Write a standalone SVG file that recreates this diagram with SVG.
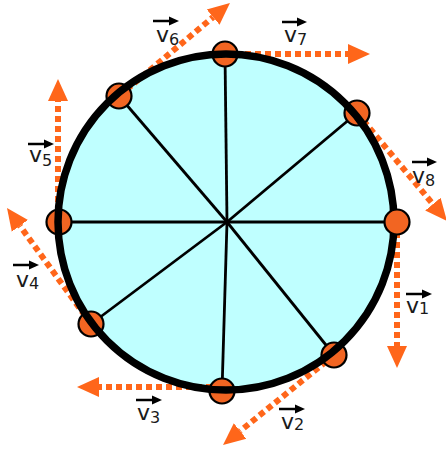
<svg xmlns="http://www.w3.org/2000/svg" width="446" height="451" viewBox="0 0 446 451">
<style>
.spoke{stroke:#000;stroke-width:2.8;fill:none}
.vel{stroke:#ff661a;stroke-width:6;stroke-dasharray:6 4;fill:none}
.node{fill:#f26522;stroke:#000;stroke-width:2.2}
.lbl{font-family:"DejaVu Sans",Verdana,sans-serif;font-size:22px;fill:#1a1a1a}
.sub{font-size:16px}
.vec{stroke:#000;stroke-width:2.5;fill:none}
</style>
<defs>
<marker id="ah" markerUnits="userSpaceOnUse" markerWidth="22" markerHeight="22" refX="0" refY="11" orient="auto">
<path d="M0,1 L22,11 L0,21 Z" fill="#ff661a"/>
</marker>
<marker id="va" markerUnits="userSpaceOnUse" markerWidth="10" markerHeight="10" refX="0" refY="5" orient="auto">
<path d="M0,0.5 L10,5 L0,9.5 Z" fill="#000"/>
</marker>
</defs>
<circle id="wheel" cx="226" cy="222" r="168" fill="#bfffff"/>
<g id="connectors">
<line class="spoke" x1="227" y1="222" x2="225" y2="54"/>
<line class="spoke" x1="227" y1="222" x2="119" y2="96"/>
<line class="spoke" x1="227" y1="222" x2="357" y2="113"/>
<line class="spoke" x1="227" y1="222" x2="59" y2="222"/>
<line class="spoke" x1="227" y1="222" x2="397" y2="222"/>
<line class="spoke" x1="227" y1="222" x2="91" y2="324"/>
<line class="spoke" x1="227" y1="222" x2="222" y2="391"/>
<line class="spoke" x1="227" y1="222" x2="334" y2="355"/>
<line class="vel" x1="225" y1="54" x2="348" y2="54" marker-end="url(#ah)"/>
<line class="vel" x1="119" y1="96" x2="213.1" y2="17.1" marker-end="url(#ah)"/>
<line class="vel" x1="58" y1="222" x2="58" y2="101" marker-end="url(#ah)"/>
<line class="vel" x1="91" y1="324" x2="19.9" y2="225.8" marker-end="url(#ah)"/>
<line class="vel" x1="222" y1="387" x2="99" y2="387" marker-end="url(#ah)"/>
<line class="vel" x1="334" y1="355" x2="240.1" y2="431.1" marker-end="url(#ah)"/>
<line class="vel" x1="397" y1="222" x2="397" y2="346" marker-end="url(#ah)"/>
<line class="vel" x1="357" y1="113" x2="432.9" y2="204.1" marker-end="url(#ah)"/>
</g>
<g id="n7"><circle class="node" cx="225" cy="54" r="12.5"/></g>
<g id="n6"><circle class="node" cx="119" cy="96" r="12.5"/></g>
<g id="n8"><circle class="node" cx="357" cy="113" r="12.5"/></g>
<g id="n5"><circle class="node" cx="59" cy="222" r="12.5"/></g>
<g id="n4"><circle class="node" cx="91" cy="324" r="12.5"/></g>
<g id="n3"><circle class="node" cx="222" cy="391" r="12.5"/></g>
<g id="n2"><circle class="node" cx="334" cy="355" r="12.5"/></g>
<circle id="rim" cx="226" cy="222" r="168" fill="none" stroke="#000" stroke-width="7.5"/>
<g id="n1"><circle class="node" cx="397" cy="222" r="12.5"/></g>
<g id="labels">
<g id="lv6"><line class="vec" x1="153" y1="21" x2="169" y2="21" marker-end="url(#va)"/><text class="lbl" x="156" y="42">v<tspan class="sub" dy="3">6</tspan></text></g>
<g id="lv7"><line class="vec" x1="282" y1="22" x2="297" y2="22" marker-end="url(#va)"/><text class="lbl" x="284" y="42">v<tspan class="sub" dy="3">7</tspan></text></g>
<g id="lv5"><line class="vec" x1="28" y1="144" x2="44" y2="144" marker-end="url(#va)"/><text class="lbl" x="29" y="162">v<tspan class="sub" dy="4">5</tspan></text></g>
<g id="lv4"><line class="vec" x1="13" y1="265" x2="29" y2="265" marker-end="url(#va)"/><text class="lbl" x="16" y="287">v<tspan class="sub" dy="2">4</tspan></text></g>
<g id="lv8"><line class="vec" x1="412" y1="162" x2="427" y2="162" marker-end="url(#va)"/><text class="lbl" x="412" y="183">v<tspan class="sub" dy="3">8</tspan></text></g>
<g id="lv1"><line class="vec" x1="406" y1="294" x2="422" y2="294" marker-end="url(#va)"/><text class="lbl" x="406" y="313">v<tspan class="sub" dy="1">1</tspan></text></g>
<g id="lv3"><line class="vec" x1="136" y1="400" x2="152" y2="400" marker-end="url(#va)"/><text class="lbl" x="137" y="420">v<tspan class="sub" dy="3">3</tspan></text></g>
<g id="lv2"><line class="vec" x1="279" y1="409" x2="295" y2="409" marker-end="url(#va)"/><text class="lbl" x="281" y="429">v<tspan class="sub" dy="1">2</tspan></text></g>
</g>
</svg>
